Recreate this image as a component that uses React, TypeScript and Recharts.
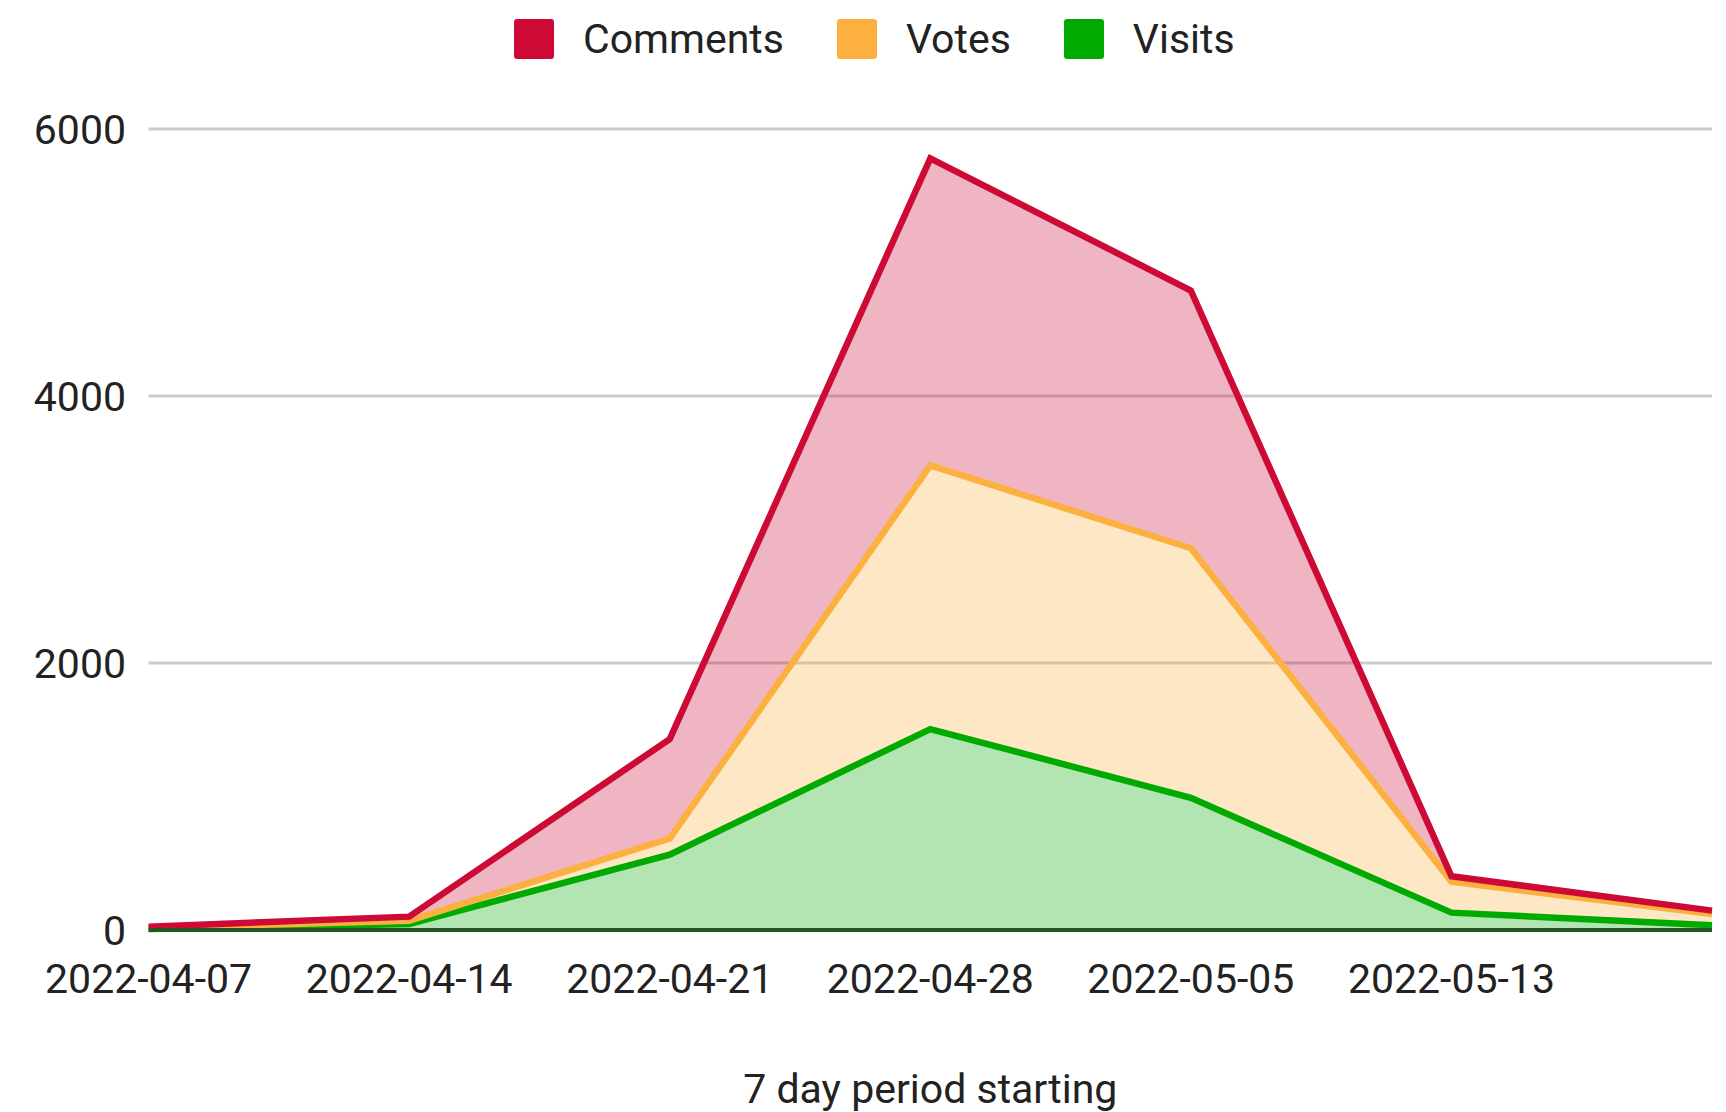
import React from 'react';
import { AreaChart, Area, XAxis, YAxis, CartesianGrid, Legend } from 'recharts';

const categories = ['2022-04-07', '2022-04-14', '2022-04-21', '2022-04-28', '2022-05-05', '2022-05-13', '2022-05-20'];
const xTickLabels = ['2022-04-07', '2022-04-14', '2022-04-21', '2022-04-28', '2022-05-05', '2022-05-13'];
const yTicks = [0, 2000, 4000, 6000];
const visits = [8, 45, 565, 1505, 990, 130, 35];
const votes = [7, 25, 120, 1975, 1870, 232, 85];
const comments = [10, 30, 745, 2300, 1930, 40, 25];

const seriesNames = ['Comments', 'Votes', 'Visits'];
const seriesColors = ['#cc0a35', '#fbb040', '#00aa00'];
// stacking order, bottom to top
const stackOrder = [2, 1, 0];

const data = categories.map((c, i) => ({
  date: c,
  Visits: visits[i],
  Votes: votes[i],
  Comments: comments[i],
}));

const FONT = 'Roboto, "Noto Sans", sans-serif';

const LegendContent = () => (
  <div style={{ display: 'flex', alignItems: 'center', height: 78, paddingLeft: 514, fontFamily: FONT, fontSize: 41, color: '#222' }}>
    {seriesNames.map((n, i) => (
      <div key={n} style={{ display: 'flex', alignItems: 'center', marginRight: 53 }}>
        <div style={{ width: 40, height: 40, borderRadius: 3, background: seriesColors[i], marginRight: 29 }} />
        <span style={{ lineHeight: '48px' }}>{n}</span>
      </div>
    ))}
  </div>
);

export default function App() {
  return (
    <div style={{ position: 'absolute', left: 0, top: 0, width: 1726, height: 1112, background: '#fff' }}>
      <AreaChart width={1726} height={1112} data={data} margin={{ top: 129, right: 14, bottom: 0, left: 0 }}>
        <CartesianGrid horizontal vertical={false} stroke="#cccccc" strokeWidth={3} />
        <XAxis
          dataKey="date"
          ticks={xTickLabels}
          height={182}
          tickLine={false}
          tickSize={0}
          tickMargin={34}
          axisLine={{ stroke: '#245724', strokeWidth: 4 }}
          tick={{ fill: '#222', fontSize: 41, fontFamily: FONT }}
          label={{ value: '7 day period starting', position: 'insideBottom', offset: 9, fill: '#222', fontSize: 41, fontFamily: FONT }}
        />
        <YAxis
          width={148.6}
          domain={[0, 6000]}
          ticks={yTicks}
          axisLine={false}
          tickLine={false}
          tickSize={0}
          tickMargin={22.6}
          tick={{ fill: '#222', fontSize: 41, fontFamily: FONT }}
        />
        <Legend verticalAlign="middle" wrapperStyle={{ top: 0, left: 0, width: 1726, height: 78 }} content={LegendContent} />
        {stackOrder.map((si) => (
          <Area
            key={'fill-' + seriesNames[si]}
            type="linear"
            dataKey={seriesNames[si]}
            stackId="fills"
            stroke="none"
            fill={seriesColors[si]}
            fillOpacity={0.3}
            dot={false}
            activeDot={false}
            isAnimationActive={false}
          />
        ))}
        {stackOrder.map((si) => (
          <Area
            key={'line-' + seriesNames[si]}
            type="linear"
            dataKey={seriesNames[si]}
            stackId="lines"
            stroke={seriesColors[si]}
            strokeWidth={6.5}
            fill="none"
            dot={false}
            activeDot={false}
            isAnimationActive={false}
          />
        ))}
      </AreaChart>
    </div>
  );
}
